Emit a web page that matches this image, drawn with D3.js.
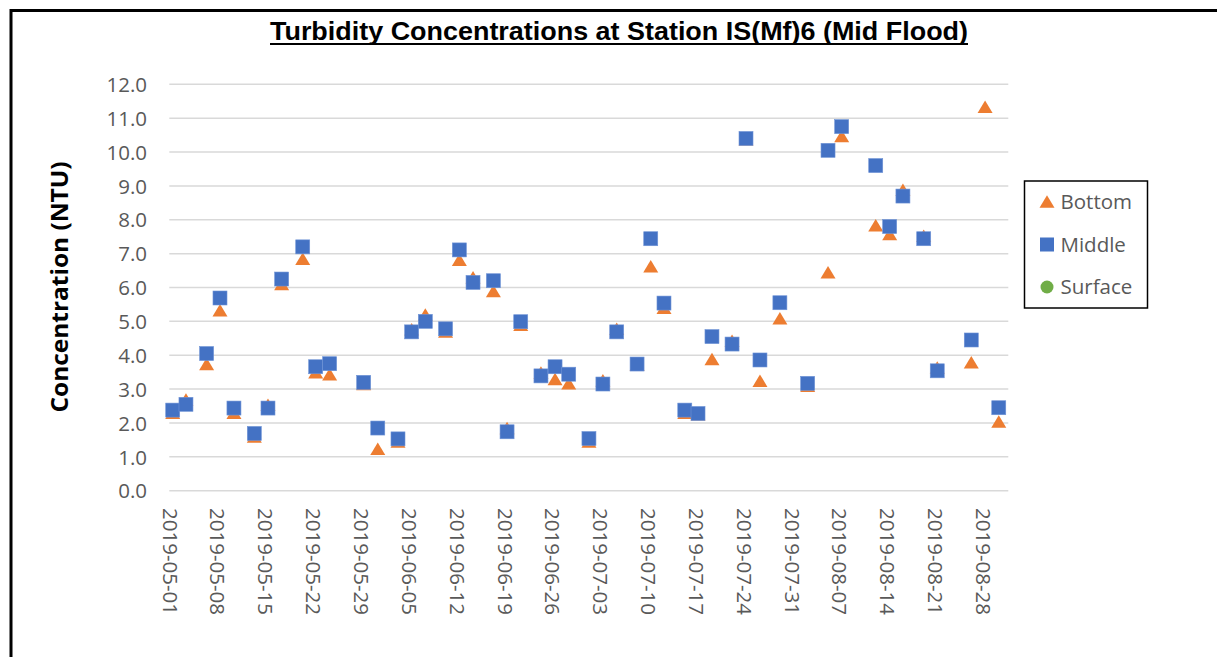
<!DOCTYPE html>
<html>
<head>
<meta charset="utf-8">
<script src="https://cdn.jsdelivr.net/npm/d3@7"></script>
<style>
  html, body { margin: 0; padding: 0; background: #fff; }
  svg { display: block; }
</style>
</head>
<body>
<svg id="chart" width="1217" height="657"></svg>
<script>
// ---------------- DATA ----------------
const sampleTimes = [
  "2019-05-01 12:00","2019-05-03 10:30","2019-05-06 11:00","2019-05-08 10:00","2019-05-10 11:00",
  "2019-05-13 10:30","2019-05-15 10:30","2019-05-17 10:30","2019-05-20 12:30","2019-05-22 10:00",
  "2019-05-24 11:00","2019-05-29 10:30","2019-05-31 12:00","2019-06-03 11:00","2019-06-05 11:00",
  "2019-06-07 11:00","2019-06-10 10:00","2019-06-12 10:30","2019-06-14 10:30","2019-06-17 10:00",
  "2019-06-19 10:00","2019-06-21 10:00","2019-06-24 09:00","2019-06-26 10:30","2019-06-28 10:30",
  "2019-07-01 09:30","2019-07-03 10:30","2019-07-05 11:00","2019-07-08 10:30","2019-07-10 10:30",
  "2019-07-12 09:00","2019-07-15 10:00","2019-07-17 08:30","2019-07-19 09:30","2019-07-22 08:00",
  "2019-07-24 09:00","2019-07-26 10:00","2019-07-29 08:00","2019-08-02 09:30","2019-08-05 09:00",
  "2019-08-07 09:00","2019-08-12 08:30","2019-08-14 09:30","2019-08-16 08:00","2019-08-19 09:00",
  "2019-08-21 08:30","2019-08-26 08:00","2019-08-28 08:30","2019-08-30 08:30"
];
const bottomValues = [
  2.30, 2.69, 3.74, 5.33, 2.30, 1.60, 2.54, 6.10, 6.85, 3.50,
  3.44, 3.15, 1.24, 1.45, 4.77, 5.20, 4.70, 6.82, 6.30, 5.90,
  1.85, 4.90, 3.49, 3.30, 3.17, 1.45, 3.26, 4.78, 3.72, 6.63,
  5.40, 2.30, 2.26, 3.89, 4.43, 10.38, 3.25, 5.09, 3.10, 6.45,
  10.47, 7.84, 7.58, 8.89, 7.53, 3.64, 3.79, 11.34, 2.04
];
const middleValues = [
  2.38, 2.55, 4.05, 5.69, 2.44, 1.69, 2.44, 6.25, 7.20, 3.66,
  3.75, 3.20, 1.85, 1.53, 4.69, 5.00, 4.78, 7.11, 6.15, 6.20,
  1.74, 4.99, 3.39, 3.66, 3.44, 1.54, 3.15, 4.69, 3.74, 7.44,
  5.54, 2.38, 2.28, 4.55, 4.33, 10.40, 3.86, 5.55, 3.17, 10.05,
  10.75, 9.60, 7.80, 8.70, 7.44, 3.54, 4.45, null, 2.45
];
const surfaceValues = [];  // no surface readings plotted
const xTickLabels = [
  "2019-05-01","2019-05-08","2019-05-15","2019-05-22","2019-05-29","2019-06-05",
  "2019-06-12","2019-06-19","2019-06-26","2019-07-03","2019-07-10","2019-07-17",
  "2019-07-24","2019-07-31","2019-08-07","2019-08-14","2019-08-21","2019-08-28"
];
const yTickValues = [0,1,2,3,4,5,6,7,8,9,10,11,12];
const seriesNames = ["Bottom", "Middle", "Surface"];

// ---------------- LAYOUT ----------------
const svg = d3.select("#chart");
const plot = { left: 169.3, right: 1008.3, top: 84.3, bottom: 490.7 };
const colors = { Bottom: "#ED7D31", Middle: "#4472C4", Surface: "#70AD47" };
const tickFont = "'Open Sans', 'Liberation Sans', sans-serif";

const parseTime = d3.utcParse("%Y-%m-%d %H:%M");
const parseDay = d3.utcParse("%Y-%m-%d");
const xStart = parseDay(xTickLabels[0]);
const xEnd = new Date(xStart.getTime() + 122.75 * 86400000);

const x = d3.scaleUtc().domain([xStart, xEnd]).range([plot.left, plot.right]);
const y = d3.scaleLinear().domain([0, 12]).range([plot.bottom, plot.top]);

// outer chart border (cropped)
svg.append("rect")
  .attr("x", 11).attr("y", 10.5).attr("width", 1400).attr("height", 900)
  .attr("fill", "none").attr("stroke", "#000").attr("stroke-width", 3);

// gridlines
svg.append("g").selectAll("line").data(yTickValues).join("line")
  .attr("x1", plot.left).attr("x2", plot.right)
  .attr("y1", d => y(d)).attr("y2", d => y(d))
  .attr("stroke", "#d9d9d9").attr("stroke-width", 1.5);

// y axis (labels only)
const yAxis = d3.axisLeft(y).tickValues(yTickValues).tickFormat(d3.format(".1f")).tickSize(0).tickPadding(0);
const yg = svg.append("g").attr("transform", `translate(${147},0)`).call(yAxis);
yg.select(".domain").remove();
yg.selectAll("text")
  .attr("font-family", tickFont).attr("font-size", "20.5px").attr("fill", "#595959")
  .attr("dy", "0.35em");

// x axis (rotated labels)
const xTicks = xTickLabels.map(s => parseDay(s));
const xAxis = d3.axisBottom(x).tickValues(xTicks).tickFormat(d3.utcFormat("%Y-%m-%d")).tickSize(0).tickPadding(0);
const xg = svg.append("g").attr("transform", `translate(0,${508})`).call(xAxis);
xg.select(".domain").remove();
xg.selectAll("text")
  .attr("font-family", tickFont).attr("font-size", "20.5px").attr("fill", "#595959")
  .attr("transform", "rotate(90)")
  .attr("text-anchor", "start")
  .attr("x", 0).attr("y", 0).attr("dy", "0.35em");

// data
const rows = sampleTimes.map((t, i) => ({ t: parseTime(t), b: bottomValues[i], m: middleValues[i] }));

function triangle(cx, cy, w = 15, h = 12.5) {
  return `M${cx},${cy - h / 2}L${cx + w / 2},${cy + h / 2}L${cx - w / 2},${cy + h / 2}Z`;
}

svg.append("g").selectAll("path").data(rows.filter(d => d.b != null)).join("path")
  .attr("d", d => triangle(x(d.t), y(d.b)))
  .attr("fill", colors.Bottom);

const sq = 14;
svg.append("g").selectAll("rect").data(rows.filter(d => d.m != null)).join("rect")
  .attr("x", d => x(d.t) - sq / 2).attr("y", d => y(d.m) - sq / 2)
  .attr("width", sq).attr("height", sq)
  .attr("fill", colors.Middle).attr("stroke", "#6f93d6").attr("stroke-width", 0.6);

svg.append("g").selectAll("circle").data(surfaceValues).join("circle")
  .attr("r", 6).attr("fill", colors.Surface);

// title
svg.append("text")
  .attr("x", 619).attr("y", 40)
  .attr("text-anchor", "middle")
  .attr("font-family", "'Liberation Sans Narrow', 'Arial Narrow', 'Liberation Sans', sans-serif")
  .attr("font-weight", "bold").attr("font-size", "26px").attr("fill", "#000")
  .attr("textLength", 698).attr("lengthAdjust", "spacingAndGlyphs")
  .text("Turbidity Concentrations at Station IS(Mf)6 (Mid Flood)");
svg.append("line").attr("x1", 270).attr("x2", 968).attr("y1", 44).attr("y2", 44)
  .attr("stroke", "#000").attr("stroke-width", 2);

// y axis title
svg.append("text")
  .attr("transform", "translate(68,287) rotate(-90)")
  .attr("text-anchor", "middle")
  .attr("font-family", "'Open Sans', 'Liberation Sans', sans-serif")
  .attr("font-weight", "bold").attr("font-size", "23px").attr("fill", "#000")
  .attr("textLength", 251).attr("lengthAdjust", "spacingAndGlyphs")
  .text("Concentration (NTU)");

// legend
const lg = svg.append("g");
lg.append("rect").attr("x", 1024.5).attr("y", 181).attr("width", 123).attr("height", 127)
  .attr("fill", "#fff").attr("stroke", "#000").attr("stroke-width", 1.5);
const legendY = [201.5, 244.5, 287];
seriesNames.forEach((name, i) => {
  const cy = legendY[i], cx = 1047;
  if (name === "Bottom") lg.append("path").attr("d", triangle(cx, cy)).attr("fill", colors.Bottom);
  else if (name === "Middle") lg.append("rect").attr("x", cx - 7).attr("y", cy - 7).attr("width", 14).attr("height", 14).attr("fill", colors.Middle);
  else lg.append("circle").attr("cx", cx).attr("cy", cy).attr("r", 6.5).attr("fill", colors.Surface);
  lg.append("text").attr("x", 1060.5).attr("y", cy).attr("dy", "0.35em")
    .attr("font-family", tickFont).attr("font-size", "20.5px").attr("fill", "#595959")
    .text(name);
});
</script>
</body>
</html>
